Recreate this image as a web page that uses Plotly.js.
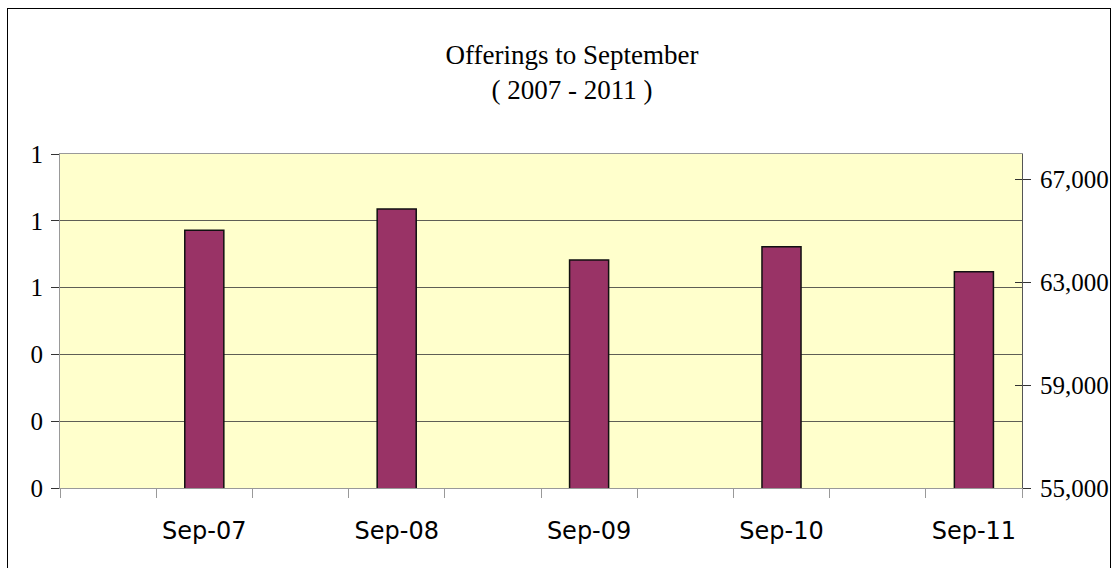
<!DOCTYPE html>
<html>
<head>
<meta charset="utf-8">
<script src="https://cdn.plot.ly/plotly-3.0.1.min.js"></script>
<style>
  html, body { margin: 0; padding: 0; background: #fff; }
  #wrap { position: relative; width: 1119px; height: 568px; overflow: hidden; }
  #chart { position: absolute; left: 0; top: 0; width: 1119px; height: 568px; }
  #frame { position: absolute; left: 7px; top: 8px; width: 1104px; height: 600px;
           border: 1px solid #000; pointer-events: none; box-sizing: border-box; }
</style>
</head>
<body>
<div id="wrap">
  <div id="chart"></div>
  <div id="frame"></div>
</div>
<script>
// ---- data ----
const categories = ['Sep-07', 'Sep-08', 'Sep-09', 'Sep-10', 'Sep-11'];
const offerings = [65030, 65860, 63870, 64390, 63420];
const chartTitle = 'Offerings to September<br>( 2007 - 2011 )';

// ---- traces ----
const bars = {
  type: 'bar',
  x: categories,
  y: offerings,
  xaxis: 'x',
  yaxis: 'y2',
  width: 0.203,
  offset: 0.1485,
  marker: { color: '#993366', line: { color: '#111111', width: 1.5 } },
  hoverinfo: 'skip',
  showlegend: false
};
const baseEmpty = { type: 'scatter', x: [], y: [], xaxis: 'x', yaxis: 'y', showlegend: false, hoverinfo: 'skip' };
const labelEmpty = { type: 'scatter', x: [], y: [], xaxis: 'x2', yaxis: 'y', showlegend: false, hoverinfo: 'skip' };
const tickEmpty = { type: 'scatter', x: [], y: [], xaxis: 'x', yaxis: 'y3', showlegend: false, hoverinfo: 'skip' };

const serif = 'Liberation Serif, Times New Roman, serif';
const sans = 'DejaVu Sans, Verdana, sans-serif';

const layout = {
  width: 1119,
  height: 568,
  margin: { l: 60, r: 97, t: 154, b: 80, pad: 0 },
  paper_bgcolor: 'rgba(0,0,0,0)',
  plot_bgcolor: '#FFFFCC',
  showlegend: false,
  font: { family: serif, size: 25, color: '#000' },
  title: {
    text: chartTitle,
    font: { family: serif, size: 27, color: '#000' },
    x: 572 / 1119, xref: 'container', xanchor: 'center',
    y: 1 - 64 / 568, yref: 'container', yanchor: 'top'
  },
  barmode: 'group',
  xaxis: {
    type: 'category',
    range: [-0.5, categories.length - 0.5],
    showticklabels: false, ticks: '', showgrid: false, zeroline: false, showline: false,
    fixedrange: true
  },
  xaxis2: {
    overlaying: 'x', anchor: 'y', side: 'bottom', type: 'linear',
    range: [0, categories.length],
    tickmode: 'array',
    tickvals: categories.map((c, i) => i + 0.75),
    ticktext: categories,
    ticks: 'outside', ticklen: 0, tickcolor: 'rgba(0,0,0,0)',
    tickfont: { family: sans, size: 24, color: '#000' },
    ticklabelstandoff: 21,
    showgrid: false, zeroline: false,
    showline: true, mirror: true, linecolor: '#999999', linewidth: 1,
    minor: { tickmode: 'linear', tick0: 0, dtick: 0.5, ticks: 'outside', ticklen: 9,
             tickcolor: '#999999', tickwidth: 1, showgrid: false },
    fixedrange: true
  },
  yaxis: {
    range: [0, 1], tickmode: 'linear', tick0: 0, dtick: 0.2, tickformat: '.0f',
    ticks: 'outside', ticklen: 8, tickcolor: '#333333', tickwidth: 1,
    ticklabelstandoff: 3,
    showgrid: true, gridcolor: '#5e5e55', gridwidth: 1,
    zeroline: false, showline: true, linecolor: '#999999', linewidth: 1,
    tickfont: { family: serif, size: 25, color: '#000' },
    fixedrange: true
  },
  yaxis2: {
    overlaying: 'y', side: 'right', anchor: 'x',
    range: [55000, 68000], tickmode: 'linear', tick0: 55000, dtick: 4000, tickformat: ',d',
    ticks: 'outside', ticklen: 8, tickcolor: '#333333', tickwidth: 1,
    ticklabelstandoff: 4,
    showgrid: false, zeroline: false, showline: true, linecolor: '#555555', linewidth: 1,
    tickfont: { family: serif, size: 25, color: '#000' },
    fixedrange: true
  },
  yaxis3: {
    overlaying: 'y', side: 'right', anchor: 'x',
    range: [55000, 68000], tickmode: 'linear', tick0: 55000, dtick: 4000,
    ticks: 'inside', ticklen: 7, tickcolor: '#333333', tickwidth: 1,
    showticklabels: false, showgrid: false, zeroline: false, showline: false,
    fixedrange: true
  }
};

Plotly.newPlot('chart', [baseEmpty, labelEmpty, tickEmpty, bars], layout, { staticPlot: true, displayModeBar: false });
</script>
</body>
</html>
